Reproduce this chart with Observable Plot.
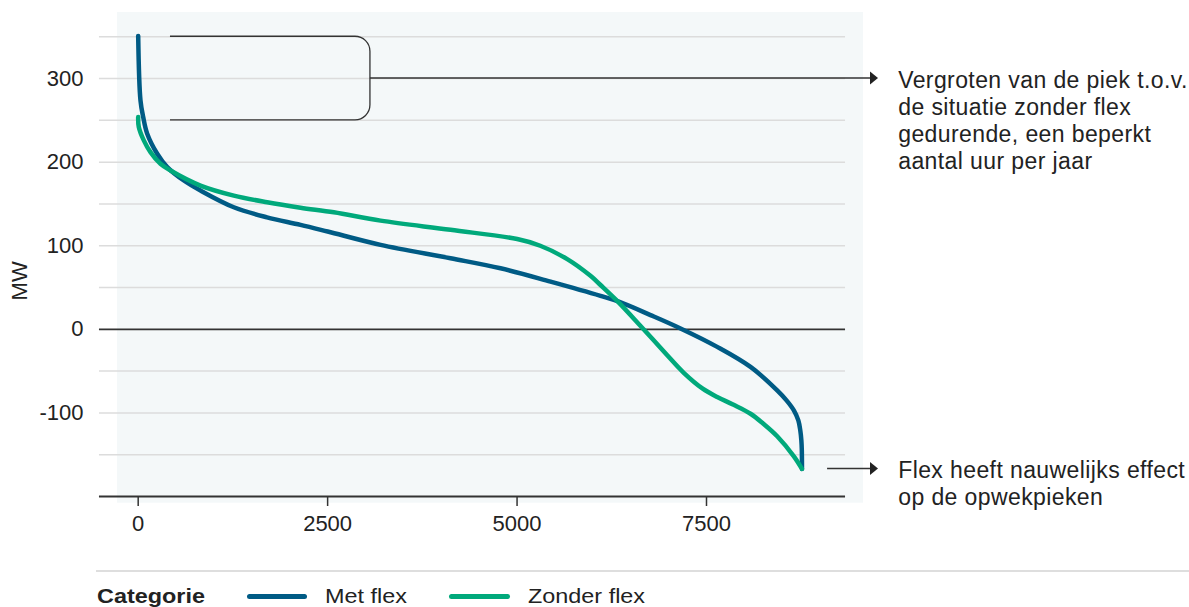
<!DOCTYPE html>
<html><head><meta charset="utf-8">
<script src="https://cdn.jsdelivr.net/npm/d3@7"></script>
<script src="https://cdn.jsdelivr.net/npm/@observablehq/plot@0.6"></script>
<style>
body{margin:0;background:#fff;font-family:"Liberation Sans",Arial,sans-serif;color:#222;}
#wrap{position:relative;width:1189px;height:607px;overflow:hidden;}
#legend{position:absolute;left:0;top:560px;width:1189px;height:47px;}
#legend .sep{position:absolute;left:96px;right:0;top:10px;height:0;border-top:2px solid #dedede;}
#legend .lab{position:absolute;top:26px;font-size:20px;line-height:20px;white-space:nowrap;transform-origin:0 50%;transform:scaleX(1.17);}
#legend .sw{position:absolute;top:34px;height:5px;border-radius:3px;}
</style></head><body><div id="wrap"><div id="chart"></div><div id="legend"></div></div>
<script>
// Data (hours of the year, sorted duration curve, MW)
const hoursMet = [0, 30, 66, 119, 251, 383, 602, 822, 1262, 1700, 2142, 2500, 3199, 4122, 4782, 5442, 6101, 6343, 6761, 7157, 7641, 8081, 8433, 8556, 8653, 8712, 8738, 8752, 8758, 8760];
const valuesMet = [351, 274, 254, 234, 210, 194, 178, 166, 146, 134, 125, 117, 101, 85, 73, 57, 40, 33, 17, 1, -21, -45, -73, -85, -97, -109, -121, -133, -145, -167];
const hoursZonder = [0, 8, 74, 162, 294, 426, 822, 1262, 1702, 2142, 2582, 3199, 4122, 5002, 5306, 5662, 5969, 6101, 6343, 6630, 6982, 7200, 7450, 7641, 7850, 8081, 8250, 8433, 8653, 8760];
const valuesZonder = [254, 242, 226, 212, 198, 190, 172, 160, 152, 145.5, 140, 130, 119, 108, 100, 84, 64, 53, 32, 4, -31, -52, -71, -81, -90, -101, -113, -128, -152, -167];
const seriesNames = ["Met flex", "Zonder flex"];
const seriesColors = ["#005b85", "#00a97b"];
const yTicks = [-100, 0, 100, 200, 300];
const xTicks = [0, 2500, 5000, 7500];
const gridValues = [-150, -100, -50, 50, 100, 150, 200, 250, 300, 350];
const yLabel = "MW";
const legendTitle = "Categorie";
const note1 = ["Vergroten van de piek t.o.v.", "de situatie zonder flex", "gedurende, een beperkt", "aantal uur per jaar"];
const note2 = ["Flex heeft nauwelijks effect", "op de opwekpieken"];

// annotation anchors in data units
const bracketX = [426, 3065];
const bracketY = [350, 250];
const arrow1 = {x1: 3065, x2: 9770, y: 300};
const arrow2 = {x1: 9098, x2: 9770, y: -167};
const noteX = 10030;

const rows = [];
hoursMet.forEach((h, i) => rows.push({hour: h, mw: valuesMet[i], cat: seriesNames[0]}));
hoursZonder.forEach((h, i) => rows.push({hour: h, mw: valuesZonder[i], cat: seriesNames[1]}));

const W = 1189, H = 560;
const xDom = [-273, 9572], yDom = [-200, 379];
const gridX = [-511, 9335];
const ink = "#222";
const fmt = d => String(d);

function annotations(index, scales) {
  const x = scales.x, y = scales.y;
  const g = d3.create("svg:g").attr("fill", "none").attr("stroke", "#333");
  const x0 = x(bracketX[0]), xr = x(bracketX[1]), yt = y(bracketY[0]), yb = y(bracketY[1]);
  const r = 15;
  g.append("path").attr("stroke-width", 1.3)
    .attr("d", `M${x0},${yt}H${xr - r}A${r},${r} 0 0 1 ${xr},${yt + r}V${yb - r}A${r},${r} 0 0 1 ${xr - r},${yb}H${x0}`);
  for (const a of [arrow1, arrow2]) {
    const ax1 = x(a.x1), ax2 = x(a.x2), ay = y(a.y);
    g.append("line").attr("x1", ax1).attr("x2", ax2 - 6).attr("y1", ay).attr("y2", ay).attr("stroke-width", 1.5);
    g.append("path").attr("stroke", "none").attr("fill", "#222")
      .attr("d", `M${ax2},${ay}L${ax2 - 8},${ay - 6.5}L${ax2 - 8},${ay + 6.5}Z`);
  }
  return g.node();
}

const noteOpts = {text: d => d, lineAnchor: "top", lineHeight: 27 / 23, dy: -10, textAnchor: "start", fontSize: 23, fill: ink};

const chart = Plot.plot({
  width: W, height: H,
  marginLeft: 117, marginRight: W - 863, marginTop: 12, marginBottom: H - 496,
  style: {fontFamily: '"Liberation Sans", Arial, sans-serif', color: ink, background: "transparent", overflow: "visible"},
  x: {domain: xDom},
  y: {domain: yDom},
  marks: [
    Plot.rect([0], {x1: xDom[0], x2: xDom[1], y1: -208, y2: yDom[1], fill: "#f4f8f9"}),
    Plot.ruleY(gridValues, {x1: gridX[0], x2: gridX[1], stroke: "#dcdcdc", strokeWidth: 1.5}),
    Plot.ruleY([0], {x1: gridX[0], x2: gridX[1], stroke: "#333", strokeWidth: 1.8}),
    Plot.ruleY([-200], {x1: gridX[0], x2: gridX[1], stroke: "#333", strokeWidth: 1.8}),
    Plot.axisY({ticks: yTicks, tickFormat: fmt, tickSize: 0, tickPadding: 34, fontSize: 22, label: null}),
    Plot.axisX({ticks: xTicks, tickFormat: fmt, tickSize: 10, tickPadding: 9, fontSize: 22, label: null, stroke: "#333", strokeWidth: 1.5}),
    Plot.text([yLabel], {text: d => d, frameAnchor: "left", textAnchor: "middle", dx: -98, rotate: -90, y: 58, fontSize: 22, fill: ink}),
    Plot.line(rows, {x: "hour", y: "mw", z: "cat", stroke: "cat", strokeWidth: 4.5, curve: "catmull-rom", strokeLinecap: "round", strokeLinejoin: "round"}),
    annotations,
    Plot.text([note1.join("\n")], {x: noteX, y: arrow1.y, ...noteOpts}),
    Plot.text([note2.join("\n")], {x: noteX, y: arrow2.y, ...noteOpts})
  ],
  color: {domain: seriesNames, range: seriesColors}
});
for (const t of chart.querySelectorAll("text")) {
  if (note1.concat(note2).some(s => t.textContent.includes(s))) t.style.letterSpacing = "0.4px";
}
document.getElementById("chart").appendChild(chart);

// Legend
const leg = document.getElementById("legend");
leg.innerHTML = `<div class="sep"></div>
<div class="lab" style="left:97px;font-weight:bold">${legendTitle}</div>
<div class="sw" style="left:247px;width:60px;background:${seriesColors[0]}"></div>
<div class="lab" style="left:325px">${seriesNames[0]}</div>
<div class="sw" style="left:449px;width:61px;background:${seriesColors[1]}"></div>
<div class="lab" style="left:528px">${seriesNames[1]}</div>`;
</script></body></html>
